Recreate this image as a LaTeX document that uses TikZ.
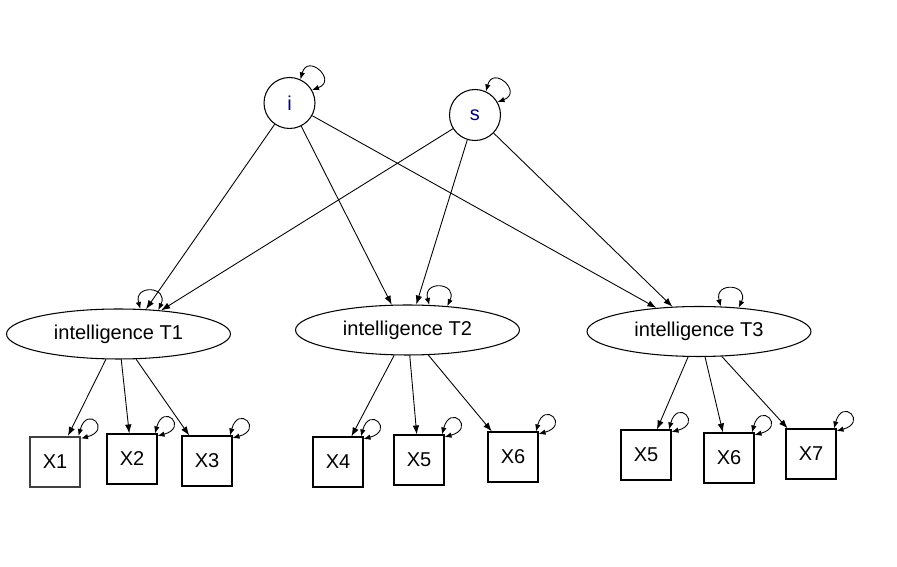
\documentclass[tikz,border=0pt]{standalone}
\usepackage{fontspec}
\setmainfont{Liberation Sans}
\usetikzlibrary{shapes.geometric,arrows.meta}
\definecolor{labelblue}{RGB}{0,0,128}

\begin{document}
\begin{tikzpicture}[x=0.02cm,y=-0.02cm,
    font=\fontsize{11.4}{13}\selectfont,
    growth/.style={draw, circle, minimum size=1.02cm, inner sep=0pt, text=labelblue, line width=0.6pt},
    latent/.style={draw, ellipse, minimum width=4.48cm, minimum height=1cm, inner sep=0pt, line width=0.6pt},
    manifest/.style={draw, rectangle, minimum size=1cm, inner sep=0pt, line width=0.6pt},
    picked/.style={draw=black!75, line width=1.2pt},
    load/.style={-{Latex[length=1.8mm,width=1.3mm]}, line width=0.5pt},
    varloop/.style={{Latex[length=1.4mm,width=1.1mm]}-{Latex[length=1.4mm,width=1.1mm]}, line width=0.5pt}]
  \useasboundingbox (0,0) rectangle (897,567);

  % Growth factors
  \node[growth] (i) at (289.5,103) {i};
  \node[growth] (s) at (475,115) {s};

  % Latent variables
  \node[latent] (T1) at (118.5,334) {intelligence T1};
  \node[latent] (T2) at (407.5,330) {intelligence T2};
  \node[latent] (T3) at (699,331.5) {intelligence T3};

  % Indicators
  \node[manifest, picked] (o1) at (55,462) {X1};
  \foreach \n/\x/\y/\lab in {o2/132/459/X2, o3/207/461/X3, o4/338/462/X4,
      o5/419/460/X5, o6/513/457/X6, o7/646/455/X5, o8/729/458/X6, o9/811/454/X7}{
    \node[manifest] (\n) at (\x,\y) {\lab};
  }

  % Growth paths
  \draw[load] (i) -- (T1.42);
  \draw[load] (i) -- (T2.122);
  \draw[load] (i) -- (T3.151);
  \draw[load] (s) -- (T1.29);
  \draw[load] (s) -- (T2.71);
  \draw[load] (s) -- (T3.137);

  % Loadings
  \foreach \f/\o in {T1/o1, T1/o2, T1/o3, T2/o4, T2/o5, T2/o6, T3/o7, T3/o8, T3/o9}{
    \draw[load] (\f) -- (\o);
  }

  % Variances
  \foreach \n in {i,s}{
    \draw[varloop] (\n.65) .. controls +(75:5.5mm) and +(20:5.5mm) .. (\n.30);
  }
  \foreach \n in {T1,T2,T3}{
    \draw[varloop] (\n.49) .. controls +(105:5.2mm) and +(65:5.2mm) .. (\n.31);
  }
  \foreach \n in {o1,o2,o3,o4,o5,o6,o7,o8,o9}{
    \draw[varloop] ([xshift=-0.5mm]\n.north east) .. controls +(75:6.5mm) and +(15:6.5mm) .. ([yshift=-0.5mm]\n.north east);
  }
\end{tikzpicture}
\end{document}
